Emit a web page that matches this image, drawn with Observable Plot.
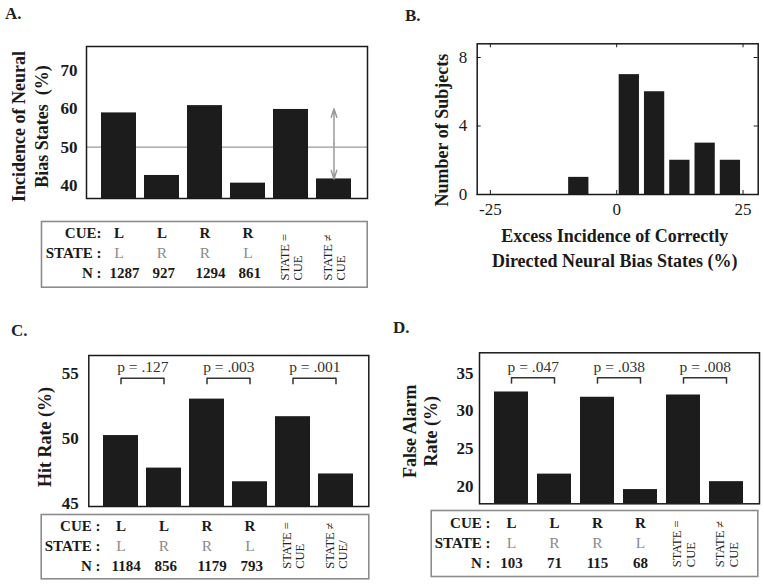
<!DOCTYPE html>
<html><head><meta charset="utf-8">
<script src="https://cdn.jsdelivr.net/npm/d3@7"></script>
<script src="https://cdn.jsdelivr.net/npm/@observablehq/plot@0.6"></script>
<style>
body{margin:0;background:#fff;}
#root{position:relative;width:764px;height:584px;overflow:hidden;font-family:"Liberation Serif",serif;}
.letter{position:absolute;font-weight:bold;font-size:17px;line-height:1;color:#222;font-family:"Liberation Serif",serif;}
</style></head><body><div id="root"></div>
<script>
// ---- data ----
const categories = ["c1","c2","c3","c4","c5","c6"];
const cueLabels = ["L","L","R","R"];
const stateLabels = ["L","R","R","L"];
const vertLabels = ["STATE =\nCUE","STATE \u2260\nCUE"];
const vertLabelsC = ["STATE =\nCUE","STATE \u2260\nCUE/"];
const rowLabelsA = ["CUE:","STATE :","N :"];
const rowLabelsCD = ["CUE :","STATE :","N :"];

const incidenceA = [58.9, 42.6, 60.8, 40.6, 59.8, 41.7];
const chanceA = [50];
const arrowTopA = 60;
const nA = [1287, 927, 1294, 861];

const histBinStart = [-10, 0, 5, 10, 15, 20];
const histBinWidth = 5;
const histCounts = [1, 7, 6, 2, 3, 2];
const xTicksB = [-25, 0, 25];
const yTicksB = [0, 4, 8];

const hitRateC = [50.25, 47.75, 53.05, 46.7, 51.7, 47.3];
const nC = [1184, 856, 1179, 793];
const pLabelsC = ["p = .127", "p = .003", "p = .001"];
const bracketC = 54.65;

const falseAlarmD = [32.5, 21.6, 31.8, 19.55, 32.1, 20.6];
const nD = [103, 71, 115, 68];
const pLabelsD = ["p = .047", "p = .038", "p = .008"];
const bracketD = 34.4;

const pairs = [["c1","c2"],["c3","c4"],["c5","c6"]];

// ---- helpers ----
const ROOT = document.getElementById("root");
const FONT = "Liberation Serif";
const INK = "#1a1a1a";
const BAR = "#1c1c1c";
const BOXGRAY = "#8c8c8c";
const STYLE = {fontFamily: FONT, color: INK, background: "transparent", overflow: "visible"};

function place(el, left, top) {
  el.style.position = "absolute";
  el.style.left = left + "px";
  el.style.top = top + "px";
  ROOT.appendChild(el);
}
function letter(t, left, top) {
  const d = document.createElement("div");
  d.className = "letter"; d.textContent = t;
  d.style.left = left + "px"; d.style.top = top + "px";
  ROOT.appendChild(d);
}

function barPanel(c) {
  const fh = c.height - c.mT - c.mB;
  const tickUnits = 6.5 * (c.yDomain[1] - c.yDomain[0]) / fh;
  const marks = [];
  if (c.before) marks.push(...c.before);
  marks.push(Plot.barY(categories, {x: d => d, y1: () => c.yDomain[0], y2: (d, i) => c.values[i], fill: BAR}));
  if (c.pLabels) {
    marks.push(
      Plot.link(pairs, {x1: d => d[0], x2: d => d[1], y1: () => c.bracket, y2: () => c.bracket, stroke: "#333", strokeWidth: 1.5}),
      Plot.ruleX(pairs.flat(), {x: d => d, y1: () => c.bracket, y2: () => c.bracket - tickUnits, stroke: "#333", strokeWidth: 1.5}),
      Plot.text(pairs, {x: d => d[0], y: () => c.bracket, text: (d, i) => c.pLabels[i], dx: c.halfStep, dy: -11, fontSize: 15.5, fill: "#333"})
    );
  }
  if (c.after) marks.push(...c.after);
  marks.push(
    Plot.frame({stroke: INK, strokeWidth: 1.5}),
    Plot.axisY({ticks: c.yTicks, tickSize: 0, tickPadding: c.tickPadding, fontSize: 17, fontWeight: "bold", label: null}),
    Plot.text([c.yLabel], {text: d => d, frameAnchor: "left", textAnchor: "middle", lineAnchor: "middle", rotate: -90,
      dx: c.labelDx, dy: c.labelDy, fontSize: 18, fontWeight: "bold", lineHeight: c.lineHeight || 1.2})
  );
  return Plot.plot({
    width: c.width, height: c.height,
    marginLeft: c.mL, marginRight: c.mR, marginTop: c.mT, marginBottom: c.mB,
    style: STYLE,
    x: {type: "band", domain: categories, paddingInner: c.padIn, paddingOuter: c.padOut, axis: null},
    y: {domain: c.yDomain},
    marks
  });
}

function tablePanel(c) {
  const rows = ["CUE", "STATE", "N"];
  const four = categories.slice(0, 4);
  return Plot.plot({
    width: c.width, height: c.height,
    marginLeft: c.mL, marginRight: c.mR, marginTop: c.mT, marginBottom: c.mB,
    style: STYLE,
    x: {type: "band", domain: categories, range: c.xRange, paddingInner: c.padIn, paddingOuter: c.padOut, axis: null},
    y: {type: "point", domain: rows, range: c.rowRange, padding: 0, axis: null},
    marks: [
      Plot.frame({stroke: BOXGRAY, strokeWidth: 1.6}),
      Plot.text(rows, {y: d => d, text: (d, i) => c.rowLabels[i], frameAnchor: "left", dx: c.labelDx, textAnchor: "end", lineAnchor: "middle", fontWeight: "bold", fontSize: 15}),
      Plot.text(four, {x: d => d, y: () => "CUE", text: (d, i) => cueLabels[i], fontWeight: "bold", fontSize: 15}),
      Plot.text(four, {x: d => d, y: () => "STATE", text: (d, i) => stateLabels[i], fill: "#8a8a8a", fontSize: 15.5}),
      Plot.text(four, {x: d => d, y: () => "N", text: (d, i) => String(c.nValues[i]), fontWeight: "bold", fontSize: 15,
        textAnchor: c.nStart ? "start" : "middle", dx: c.nStart ? -9.5 : 0}),
      Plot.text(categories.slice(4), {x: d => d, text: (d, i) => c.vert[i], frameAnchor: "bottom", rotate: -90, textAnchor: "start",
        lineAnchor: "middle", dy: c.vertDy, fontSize: 12.5, lineHeight: 1.08, fill: "#222"})
    ]
  });
}

// ---- Panel A ----
const arrowMid = (arrowTopA + incidenceA[5]) / 2;
place(barPanel({
  values: incidenceA, width: 380, height: 205, mL: 86, mR: 13, mT: 46, mB: 7,
  yDomain: [36.6, 76.2], yTicks: [40, 50, 60, 70], tickPadding: 9,
  padIn: 0.18, padOut: 0.29,
  yLabel: "Incidence of Neural\nBias States  (%)", labelDx: -57, labelDy: 4, lineHeight: 1.25,
  before: [Plot.ruleY(chanceA, {stroke: "#9a9a9a", strokeWidth: 1.2})],
  after: [
    Plot.arrow([arrowTopA, incidenceA[5]], {x1: () => "c6", x2: () => "c6", y1: () => arrowMid, y2: d => d,
      stroke: "#9a9a9a", strokeWidth: 1.5, headLength: 9, headAngle: 36})
  ]
}), 0, 0);
place(tablePanel({
  width: 380, height: 75, mL: 41, mR: 13.3, mT: 6, mB: 3.3,
  xRange: [86, 367], padIn: 0.18, padOut: 0.29, rowRange: [17.5, 58.3],
  rowLabels: rowLabelsA, labelDx: 60, nValues: nA, nStart: true, vert: vertLabels, vertDy: -6.7
}), 0, 215);

// ---- Panel B ----
const fwB = 384 - 96.7 - 6.3, fhB = 270 - 43.3 - 76;
place(Plot.plot({
  width: 384, height: 270, marginLeft: 96.7, marginRight: 6.3, marginTop: 43.3, marginBottom: 76,
  style: STYLE,
  x: {domain: [-27.6, 28]},
  y: {domain: [0, 8.8]},
  marks: [
    Plot.rectY(histCounts, {x1: (d, i) => histBinStart[i], x2: (d, i) => histBinStart[i] + histBinWidth, y: d => d,
      insetLeft: 2.5, insetRight: 2.5, fill: BAR}),
    Plot.tickY(yTicksB, {y: d => d, insetRight: fwB - 4, stroke: INK}),
    Plot.tickY(yTicksB, {y: d => d, insetLeft: fwB - 4, stroke: INK}),
    Plot.tickX(xTicksB, {x: d => d, insetTop: fhB - 4, stroke: INK}),
    Plot.tickX(xTicksB, {x: d => d, insetBottom: fhB - 4, stroke: INK}),
    Plot.frame({stroke: INK, strokeWidth: 1.5}),
    Plot.axisY({ticks: yTicksB, tickSize: 0, tickPadding: 10, fontSize: 17, label: null}),
    Plot.axisX({ticks: xTicksB, tickSize: 0, tickPadding: 8, fontSize: 17, label: null, tickFormat: d => String(d)}),
    Plot.text(["Number of Subjects"], {text: d => d, frameAnchor: "left", textAnchor: "middle", lineAnchor: "middle", rotate: -90,
      dx: -35, dy: 11, fontSize: 18, fontWeight: "bold"}),
    Plot.text(["Excess Incidence of Correctly\nDirected Neural Bias States (%)"], {text: d => d, frameAnchor: "bottom",
      textAnchor: "middle", lineAnchor: "middle", dy: 51.5, dx: -3, fontSize: 18, fontWeight: "bold", lineHeight: 1.39})
  ]
}), 380, 0);

// ---- Panel C ----
place(barPanel({
  values: hitRateC, width: 380, height: 222, mL: 88.3, mR: 11.7, mT: 65, mB: 6,
  yDomain: [44.8, 56.4], yTicks: [45, 50, 55], tickPadding: 10,
  padIn: 0.18, padOut: 0.29,
  yLabel: "Hit Rate (%)", labelDx: -45, labelDy: 6,
  pLabels: pLabelsC, bracket: bracketC, halfStep: 21.9
}), 0, 290);
place(tablePanel({
  width: 380, height: 76, mL: 40.7, mR: 11.7, mT: 6, mB: 5.7,
  xRange: [88.3, 368.3], padIn: 0.18, padOut: 0.29, rowRange: [17.7, 58.7],
  rowLabels: rowLabelsCD, labelDx: 59.3, nValues: nC, nStart: true, vert: vertLabelsC, vertDy: -10
}), 0, 508);

// ---- Panel D ----
place(barPanel({
  values: falseAlarmD, width: 384, height: 220, mL: 99, mR: 5, mT: 62.3, mB: 6.7,
  yDomain: [17.66, 37.7], yTicks: [20, 25, 30, 35], tickPadding: 6,
  padIn: 0.2, padOut: 0.3,
  yLabel: "False Alarm\nRate (%)", labelDx: -59.3, labelDy: 3, lineHeight: 1.15,
  pLabels: pLabelsD, bracket: bracketD, halfStep: 21.8
}), 380, 290);
place(tablePanel({
  width: 384, height: 80, mL: 50.7, mR: 6.7, mT: 6, mB: 8,
  xRange: [99, 379], padIn: 0.2, padOut: 0.3, rowRange: [18.3, 60],
  rowLabels: rowLabelsCD, labelDx: 59.3, nValues: nD, nStart: false, vert: vertLabels, vertDy: -9.3
}), 380, 504);

// ---- panel letters ----
letter("A.", 5, 5);
letter("B.", 405, 7);
letter("C.", 11, 322);
letter("D.", 393, 319);
</script></body></html>
